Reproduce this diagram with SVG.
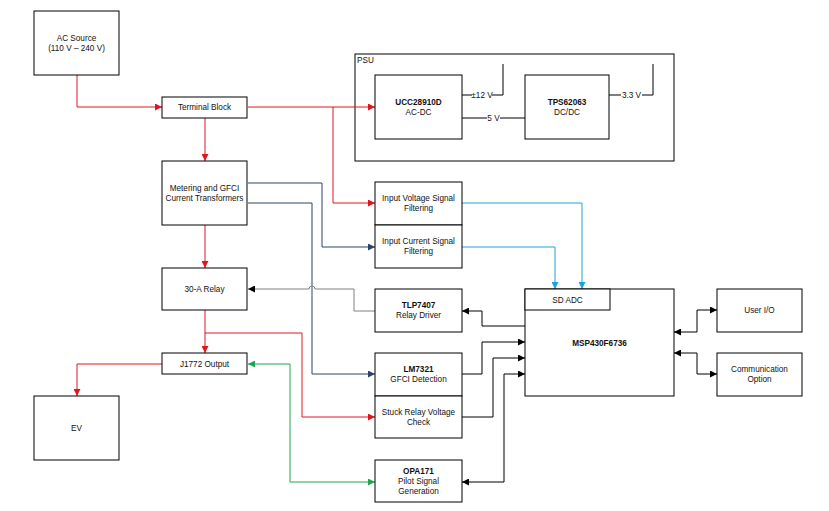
<svg xmlns="http://www.w3.org/2000/svg" width="829" height="511" viewBox="0 0 829 511">
<style>
rect.box{fill:#fff;stroke:#000;stroke-width:1}
text{font-family:"Liberation Sans",Arial,sans-serif;font-size:8.2px;fill:#111;text-anchor:middle}
text.b{font-weight:bold}
text.l{text-anchor:start}
path{fill:none;stroke-width:1}
.red{stroke:#E3141C}
.blue{stroke:#2B4468}
.cyan{stroke:#1CA3D6}
.green{stroke:#1FA552}
.grey{stroke:#808080}
.blk{stroke:#000}
</style>
<defs>
<marker id="mr" viewBox="0 0 8 8" refX="8" refY="4" markerWidth="7" markerHeight="7" orient="auto-start-reverse" markerUnits="userSpaceOnUse"><path d="M0,0 L8,4 L0,8 z" style="fill:#E3141C;stroke:none"/></marker>
<marker id="mb" viewBox="0 0 8 8" refX="8" refY="4" markerWidth="7" markerHeight="7" orient="auto-start-reverse" markerUnits="userSpaceOnUse"><path d="M0,0 L8,4 L0,8 z" style="fill:#2B4468;stroke:none"/></marker>
<marker id="mc" viewBox="0 0 8 8" refX="8" refY="4" markerWidth="7" markerHeight="7" orient="auto-start-reverse" markerUnits="userSpaceOnUse"><path d="M0,0 L8,4 L0,8 z" style="fill:#1CA3D6;stroke:none"/></marker>
<marker id="mg" viewBox="0 0 8 8" refX="8" refY="4" markerWidth="7" markerHeight="7" orient="auto-start-reverse" markerUnits="userSpaceOnUse"><path d="M0,0 L8,4 L0,8 z" style="fill:#1FA552;stroke:none"/></marker>
<marker id="mk" viewBox="0 0 8 8" refX="8" refY="4" markerWidth="7" markerHeight="7" orient="auto-start-reverse" markerUnits="userSpaceOnUse"><path d="M0,0 L8,4 L0,8 z" style="fill:#000;stroke:none"/></marker>
</defs>
<rect width="829" height="511" fill="#fff"/>

<g id="psu">
<rect class="box" x="355" y="54" width="319" height="107"/>
<text class="l" x="357" y="63">PSU</text>
</g>

<g id="connectors">
<path class="red" d="M77,75 V107 H162" marker-end="url(#mr)"/>
<path class="red" d="M205,118 V161" marker-end="url(#mr)"/>
<path class="red" d="M248,107 H375" marker-end="url(#mr)"/>
<path class="red" d="M333,107 V203 H375" marker-end="url(#mr)"/>
<path class="red" d="M205,225 V268" marker-end="url(#mr)"/>
<path class="red" d="M205,310 V353" marker-end="url(#mr)"/>
<path class="red" d="M205,333 H302 V417 H375" marker-end="url(#mr)"/>
<path class="red" d="M162,364 H77 V396" marker-end="url(#mr)"/>
<path class="blue" d="M248,183 H322 V247 H375" marker-end="url(#mb)"/>
<path class="blue" d="M248,203 H312 V374 H375" marker-end="url(#mb)"/>
<path class="grey" d="M375,311 H354 V289 H315 A3,3 0 0 0 309,289 H248" marker-end="url(#mk)"/>
<path class="cyan" d="M462,203 H582 V289" marker-end="url(#mc)"/>
<path class="cyan" d="M462,247 H555 V289" marker-end="url(#mc)"/>
<path class="green" d="M248,364 H290 V482 H375" marker-start="url(#mg)" marker-end="url(#mg)"/>
<path class="blk" d="M525,326 H482 V311 H462" marker-end="url(#mk)"/>
<path class="blk" d="M462,374 H482 V342 H525" marker-end="url(#mk)"/>
<path class="blk" d="M462,417 H493 V358 H525" marker-end="url(#mk)"/>
<path class="blk" d="M462,482 H504 V374 H525" marker-start="url(#mk)" marker-end="url(#mk)"/>
<path class="blk" d="M674,332 H697 V310 H717" marker-start="url(#mk)" marker-end="url(#mk)"/>
<path class="blk" d="M674,353 H697 V374 H717" marker-start="url(#mk)" marker-end="url(#mk)"/>
<path class="blk" d="M462,95 H472 M492,95 H503 V64"/>
<path class="blk" d="M462,118 H487 M500,118 H525"/>
<path class="blk" d="M609,95 H621 M642,95 H653 V64"/>
<text x="482" y="98">±12 V</text>
<text x="493.5" y="121">5 V</text>
<text x="631.5" y="98">3.3 V</text>
</g>

<g id="ac-source">
<rect class="box" x="34" y="11" width="85" height="64"/>
<text x="76.5" y="41">AC Source</text>
<text x="76.5" y="51">(110 V – 240 V)</text>
</g>
<g id="terminal-block">
<rect class="box" x="162" y="97" width="85" height="21"/>
<text x="204.5" y="110">Terminal Block</text>
</g>
<g id="metering">
<rect class="box" x="162" y="161" width="85" height="64"/>
<text x="204.5" y="191">Metering and GFCI</text>
<text x="204.5" y="201">Current Transformers</text>
</g>
<g id="relay">
<rect class="box" x="162" y="268" width="85" height="42"/>
<text x="204.5" y="292">30-A Relay</text>
</g>
<g id="j1772">
<rect class="box" x="162" y="353" width="85" height="21"/>
<text x="204.5" y="367">J1772 Output</text>
</g>
<g id="ev">
<rect class="box" x="34" y="396" width="85" height="64"/>
<text x="76.5" y="431">EV</text>
</g>
<g id="ucc28910d">
<rect class="box" x="375" y="75" width="87" height="64"/>
<text class="b" x="418.5" y="104.5">UCC28910D</text>
<text x="418.5" y="114.5">AC-DC</text>
</g>
<g id="tps62063">
<rect class="box" x="525" y="75" width="84" height="64"/>
<text class="b" x="567" y="104.5">TPS62063</text>
<text x="567" y="114.5">DC/DC</text>
</g>
<g id="input-voltage">
<rect class="box" x="375" y="182" width="87" height="43"/>
<text x="418.5" y="201">Input Voltage Signal</text>
<text x="418.5" y="211">Filtering</text>
</g>
<g id="input-current">
<rect class="box" x="375" y="225" width="87" height="43"/>
<text x="418.5" y="244">Input Current Signal</text>
<text x="418.5" y="254">Filtering</text>
</g>
<g id="tlp7407">
<rect class="box" x="375" y="289" width="87" height="43"/>
<text class="b" x="418.5" y="308">TLP7407</text>
<text x="418.5" y="318">Relay Driver</text>
</g>
<g id="lm7321">
<rect class="box" x="375" y="353" width="87" height="43"/>
<text class="b" x="418.5" y="372">LM7321</text>
<text x="418.5" y="382">GFCI Detection</text>
</g>
<g id="stuck-relay">
<rect class="box" x="375" y="396" width="87" height="42"/>
<text x="418.5" y="415">Stuck Relay Voltage</text>
<text x="418.5" y="425">Check</text>
</g>
<g id="opa171">
<rect class="box" x="375" y="460" width="87" height="42"/>
<text class="b" x="418.5" y="474">OPA171</text>
<text x="418.5" y="484">Pilot Signal</text>
<text x="418.5" y="494">Generation</text>
</g>
<g id="msp430">
<rect class="box" x="525" y="289" width="149" height="107"/>
<rect class="box" x="525" y="289" width="85" height="21"/>
<text x="567.5" y="302.5">SD ADC</text>
<text class="b" x="599.5" y="346">MSP430F6736</text>
</g>
<g id="user-io">
<rect class="box" x="717" y="289" width="85" height="43"/>
<text x="759.5" y="313">User I/O</text>
</g>
<g id="comm">
<rect class="box" x="717" y="353" width="85" height="43"/>
<text x="759.5" y="372">Communication</text>
<text x="759.5" y="382">Option</text>
</g>
</svg>
